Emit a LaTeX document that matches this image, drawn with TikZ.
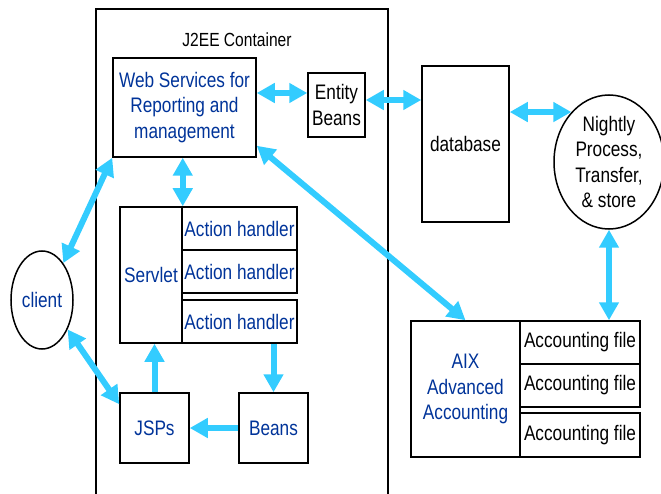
\documentclass[tikz,border=0pt]{standalone}
\usepackage{fontspec}
\setmainfont{Liberation Sans}[FakeStretch=0.82]
\usetikzlibrary{arrows.meta, positioning, shapes.geometric}

\definecolor{linkblue}{RGB}{51,204,255}
\definecolor{textblue}{RGB}{0,51,153}

\begin{document}
\begin{tikzpicture}[
    x=1pt, y=-1pt,
    every node/.style={align=center, inner sep=2pt, font=\fontsize{21}{25.5}\selectfont},
    box/.style={draw, line width=1.5pt, rectangle},
    oval/.style={draw, line width=1.5pt, ellipse, inner sep=0pt},
    link/.style={draw=linkblue, line width=6pt},
    >={Triangle[length=18pt, width=19pt]}
]
\clip (0,0) rectangle (661,494);

% container frame, runs off the bottom
\node (cont)   at (242,260)   [box, line width=1.1pt, minimum width=292pt, minimum height=502pt] {};
\node (ctitle) at (237,40)    [font=\fontsize{19}{22}\selectfont] {J2EE Container};

\node (ws)     at (184.5,107.5) [box, text=textblue, minimum width=143pt, minimum height=99pt] {Web Services for\\Reporting and\\management};
\node (ent)    at (336.5,105)   [box, minimum width=57pt, minimum height=64pt] {Entity\\Beans};
\node (db)     at (465.5,144)   [box, minimum width=87pt, minimum height=156pt] {database};
\node (nightly) at (609,162)    [oval, minimum width=110pt, minimum height=134pt] {Nightly\\Process,\\Transfer,\\\& store};
\node (client) at (42,300)      [oval, text=textblue, minimum width=62pt, minimum height=98pt] {client};

% servlet with its handlers
\node (srv)    at (151,275)     [box, text=textblue, minimum width=62pt, minimum height=136pt] {Servlet};
\node (ah1)    at (239.5,228.5) [box, text=textblue, minimum width=115pt, minimum height=43pt] {Action handler};
\node (ah2)    at (239.5,271.5) [box, text=textblue, minimum width=115pt, minimum height=43pt] {Action handler};
\node (ah3)    at (239.5,321.5) [box, text=textblue, minimum width=115pt, minimum height=43pt] {Action handler};

\node (jsp)    at (154.5,428)   [box, text=textblue, minimum width=69pt, minimum height=70pt] {JSPs};
\node (beans)  at (273.5,428)   [box, text=textblue, minimum width=69pt, minimum height=70pt] {Beans};

% accounting side
\node (aix)    at (465.5,389)   [box, text=textblue, minimum width=109pt, minimum height=136pt] {AIX\\Advanced\\Accounting};
\node (af1)    at (580,342.5)   [box, minimum width=120pt, minimum height=43pt] {Accounting file};
\node (af2)    at (580,385.5)   [box, minimum width=120pt, minimum height=43pt] {Accounting file};
\node (af3)    at (580,435)     [box, minimum width=120pt, minimum height=44pt] {Accounting file};

\draw[link, <->] ([yshift=14.5pt]ws.east) -- ([yshift=14.5pt]ws.east -| ent.west);
\draw[link, <->] ([yshift=5pt]ent.east) -- ([yshift=5pt]ent.east -| db.west);
\draw[link, <->] (db.east |- nightly.127) -- (nightly.127);
\draw[link, <->] (srv.north east |- ws.south) -- (srv.north east);
\draw[link, <->] ([yshift=12pt]ws.south east) -- (aix.north);
\draw[link, <->] (client.60) -- (ws.south west);
\draw[link, <->] (client.311) -- ([yshift=-12pt]jsp.north west);
\draw[link, ->] (jsp.north) -- (jsp.north |- srv.south);
\draw[link, ->] (beans.north |- ah3.south) -- (beans.north);
\draw[link, ->] (beans.west) -- (jsp.east);
\draw[link, <->] (nightly.south) -- (nightly.south |- af1.north);
\end{tikzpicture}
\end{document}
